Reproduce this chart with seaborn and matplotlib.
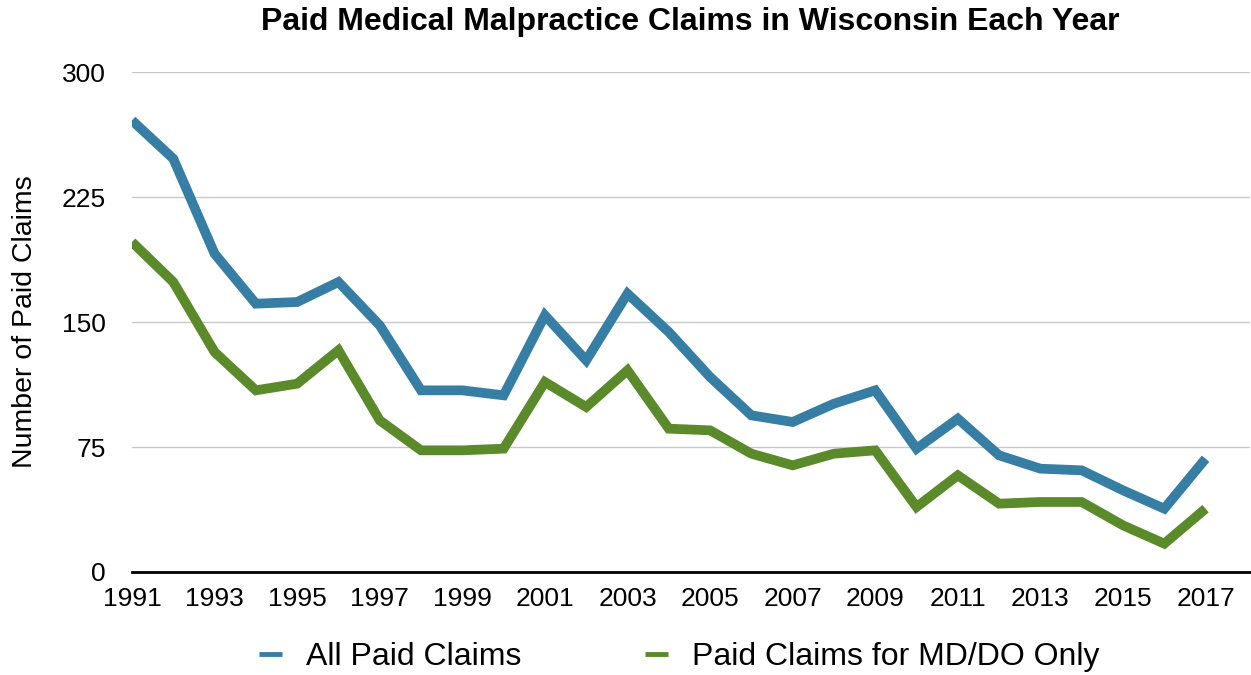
import pandas as pd
import matplotlib
matplotlib.use("Agg")
import matplotlib.pyplot as plt
import seaborn as sns

# Data
years = list(range(1991, 2018))
all_claims = [271, 248, 191, 161, 162, 174, 148, 109, 109, 106, 154, 127, 167, 144,
              117, 94, 90, 101, 109, 74, 92, 70, 62, 61, 49, 38, 68]
md_do_claims = [198, 174, 132, 109, 113, 133, 91, 73, 73, 74, 114, 99, 121, 86,
                85, 71, 64, 71, 73, 39, 58, 41, 42, 42, 28, 17, 38]
series_names = ["All Paid Claims", "Paid Claims for MD/DO Only"]
colors = ["#367EA3", "#5A8A29"]

df = pd.DataFrame({
    "Year": years * 2,
    "Claims": all_claims + md_do_claims,
    "Series": [series_names[0]] * len(years) + [series_names[1]] * len(years),
})

sns.set_theme(style="white")
plt.rcParams["font.family"] = ["Liberation Sans", "DejaVu Sans"]
plt.rcParams["text.color"] = "black"
plt.rcParams["axes.labelcolor"] = "black"

fig = plt.figure(figsize=(12.51, 6.75), dpi=100)
ax = fig.add_axes([0.1055, 0.1526, 0.8935, 0.7407])

sns.lineplot(data=df, x="Year", y="Claims", hue="Series", palette=colors,
             linewidth=7, ax=ax, legend=False,
             solid_capstyle="butt", solid_joinstyle="miter")

ax.set_ylim(0, 300)
ax.set_xlim(1991, 2018.07)
ax.set_yticks([0, 75, 150, 225, 300])
ax.set_xticks(list(range(1991, 2018, 2)))
ax.tick_params(axis="both", length=0, labelsize=19, colors="black")
ax.tick_params(axis="y", pad=19)
ax.tick_params(axis="x", pad=11)
ax.yaxis.grid(True, color="#c8c8c8", linewidth=1)
ax.set_axisbelow(True)
for side in ["left", "right", "top"]:
    ax.spines[side].set_visible(False)
ax.spines["bottom"].set_color("black")
ax.spines["bottom"].set_linewidth(2)

ax.set_xlabel("")
ax.set_ylabel("Number of Paid Claims", fontsize=20.5, labelpad=17)
fig.text(0.552, 0.967, "Paid Medical Malpractice Claims in Wisconsin Each Year",
         ha="center", va="center", fontsize=23, fontweight="bold")

handles = [plt.Line2D([], [], color=c, linewidth=3.5, solid_capstyle="butt")
           for c in colors]
fig.legend(handles, series_names, loc="center", bbox_to_anchor=(0.543, 0.027),
           ncol=2, frameon=False, fontsize=23, handlelength=0.72,
           handletextpad=0.75, columnspacing=3.85)

fig.savefig("out.png", dpi=100)
